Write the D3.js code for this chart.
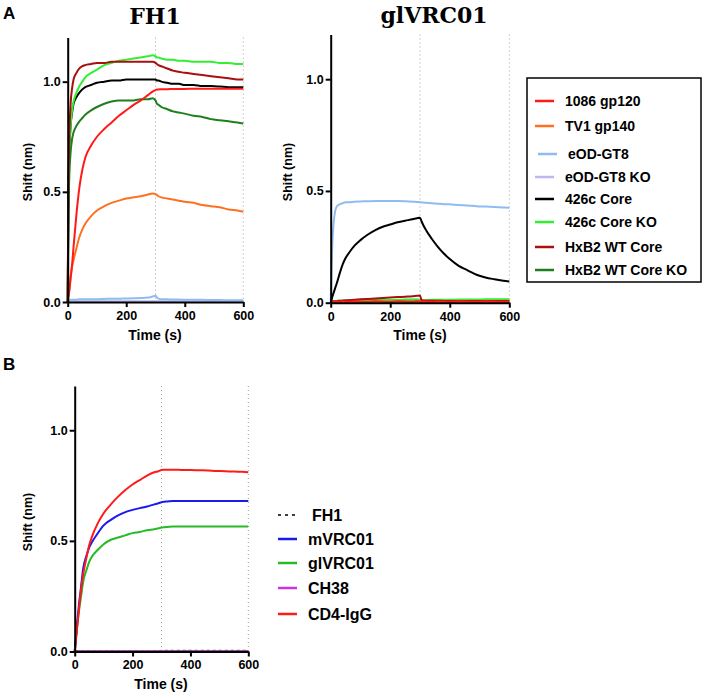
<!DOCTYPE html>
<html><head><meta charset="utf-8">
<script src="https://cdn.jsdelivr.net/npm/d3@7"></script>
<style>body{margin:0;background:#fff} svg{display:block} text{font-family:"Liberation Sans",Arial,sans-serif;font-weight:bold}</style>
</head><body>
<svg id="c" width="704" height="696"></svg>
<script>
// ---------- DATA ----------
const time = [0,2,5,10,15,20,30,40,50,60,80,100,125,150,175,200,225,250,275,290,300,305,310,320,340,360,380,400,430,460,490,520,550,580,600];

// Panel A, FH1
const fh1_gp120   = [0,0.02,0.045,0.11,0.17,0.25,0.4,0.52,0.6,0.655,0.71,0.75,0.785,0.815,0.845,0.87,0.895,0.915,0.94,0.955,0.962,0.965,0.965,0.966,0.966,0.967,0.967,0.967,0.968,0.968,0.968,0.968,0.968,0.968,0.968];
const fh1_gp140   = [0,0.02,0.05,0.11,0.16,0.19,0.245,0.295,0.33,0.355,0.39,0.415,0.435,0.45,0.46,0.47,0.475,0.48,0.488,0.493,0.49,0.485,0.48,0.475,0.47,0.465,0.46,0.455,0.45,0.44,0.435,0.43,0.42,0.415,0.41];
const fh1_eod     = [0,0.005,0.008,0.01,0.01,0.01,0.01,0.012,0.012,0.012,0.013,0.013,0.014,0.015,0.015,0.016,0.017,0.018,0.02,0.025,0.028,0.02,0.015,0.012,0.012,0.011,0.011,0.01,0.01,0.01,0.009,0.009,0.008,0.008,0.008];
const fh1_eodko   = [0,0.002,0.003,0.003,0.003,0.003,0.003,0.003,0.003,0.003,0.003,0.003,0.003,0.003,0.003,0.003,0.003,0.003,0.003,0.003,0.003,0.003,0.003,0.003,0.003,0.003,0.003,0.003,0.003,0.003,0.003,0.003,0.003,0.003,0.003];
const fh1_426c    = [0,0.4,0.65,0.8,0.86,0.9,0.93,0.95,0.965,0.975,0.985,0.995,1.0,1.005,1.005,1.01,1.01,1.01,1.01,1.01,1.01,1.005,1.005,1.0,0.995,0.99,0.99,0.985,0.985,0.98,0.98,0.978,0.975,0.975,0.975];
const fh1_426cko  = [0,0.4,0.65,0.8,0.87,0.91,0.95,0.98,1.0,1.02,1.04,1.055,1.075,1.085,1.095,1.10,1.105,1.11,1.115,1.12,1.115,1.11,1.11,1.105,1.10,1.10,1.095,1.095,1.09,1.09,1.09,1.085,1.085,1.08,1.08];
const fh1_hxb2    = [0,0.45,0.72,0.9,0.97,1.01,1.04,1.06,1.07,1.075,1.08,1.085,1.085,1.09,1.09,1.09,1.09,1.09,1.09,1.09,1.085,1.08,1.075,1.07,1.06,1.05,1.045,1.04,1.035,1.03,1.025,1.02,1.015,1.01,1.01];
const fh1_hxb2ko  = [0,0.35,0.55,0.68,0.74,0.77,0.8,0.82,0.835,0.85,0.87,0.885,0.9,0.91,0.915,0.915,0.915,0.92,0.92,0.925,0.915,0.9,0.895,0.885,0.875,0.865,0.86,0.855,0.845,0.84,0.83,0.825,0.82,0.815,0.81];

// Panel A, glVRC01
const gl_gp120    = [0,0.004,0.005,0.004,0.006,0.005,0.004,0.006,0.005,0.004,0.006,0.005,0.004,0.006,0.005,0.004,0.006,0.005,0.004,0.006,0.005,0.004,0.006,0.005,0.004,0.006,0.005,0.004,0.006,0.005,0.004,0.006,0.005,0.004,0.005];
const gl_gp140    = [0,0.003,0.003,0.004,0.004,0.004,0.004,0.004,0.004,0.004,0.004,0.004,0.004,0.004,0.004,0.004,0.004,0.004,0.004,0.004,0.004,0.004,0.004,0.004,0.004,0.004,0.004,0.004,0.004,0.004,0.004,0.004,0.004,0.004,0.004];
const gl_eod      = [0,0.12,0.25,0.36,0.41,0.43,0.44,0.445,0.45,0.45,0.452,0.453,0.454,0.455,0.455,0.455,0.455,0.454,0.452,0.451,0.45,0.449,0.448,0.447,0.445,0.443,0.441,0.44,0.437,0.435,0.432,0.43,0.428,0.426,0.425];
const gl_eodko    = [0,0.002,0.002,0.002,0.002,0.002,0.002,0.002,0.002,0.002,0.002,0.002,0.002,0.002,0.002,0.002,0.002,0.002,0.002,0.002,0.002,0.002,0.002,0.002,0.002,0.002,0.002,0.002,0.002,0.002,0.002,0.002,0.002,0.002,0.002];
const gl_426c     = [0,0.01,0.025,0.045,0.065,0.085,0.13,0.17,0.2,0.22,0.255,0.28,0.305,0.325,0.34,0.35,0.36,0.367,0.373,0.378,0.38,0.365,0.35,0.325,0.285,0.25,0.22,0.195,0.165,0.145,0.125,0.113,0.105,0.098,0.095];
const gl_426cko   = [0,0.004,0.006,0.007,0.008,0.008,0.009,0.009,0.01,0.01,0.01,0.011,0.011,0.012,0.012,0.012,0.013,0.013,0.013,0.014,0.012,0.012,0.012,0.012,0.013,0.013,0.013,0.013,0.014,0.014,0.014,0.015,0.015,0.015,0.015];
const gl_hxb2     = [0,0.002,0.004,0.005,0.006,0.007,0.008,0.009,0.01,0.011,0.013,0.015,0.017,0.019,0.021,0.023,0.025,0.027,0.029,0.031,0.032,0.012,0.01,0.009,0.009,0.009,0.008,0.008,0.008,0.008,0.008,0.008,0.008,0.008,0.008];
const gl_hxb2ko   = [0,0.004,0.006,0.007,0.008,0.008,0.009,0.009,0.01,0.01,0.01,0.011,0.011,0.012,0.012,0.012,0.012,0.013,0.013,0.013,0.012,0.011,0.011,0.011,0.011,0.011,0.011,0.011,0.011,0.011,0.011,0.011,0.011,0.011,0.011];

// Panel B
const b_fh1       = [0.003,0.003,0.003,0.003,0.003,0.003,0.003,0.003,0.003,0.003,0.003,0.003,0.003,0.003,0.003,0.003,0.003,0.003,0.003,0.003,0.004,0.004,0.004,0.004,0.004,0.004,0.004,0.004,0.004,0.004,0.004,0.004,0.004,0.004,0.004];
const b_mvrc01    = [0,0.03,0.075,0.15,0.215,0.27,0.38,0.43,0.47,0.495,0.535,0.57,0.595,0.615,0.63,0.64,0.648,0.655,0.665,0.67,0.675,0.676,0.677,0.678,0.68,0.68,0.68,0.68,0.68,0.68,0.68,0.68,0.68,0.68,0.68];
const b_glvrc01   = [0,0.026,0.065,0.13,0.185,0.23,0.32,0.365,0.405,0.43,0.46,0.485,0.505,0.515,0.525,0.535,0.54,0.548,0.553,0.557,0.56,0.561,0.562,0.563,0.565,0.565,0.565,0.565,0.565,0.565,0.565,0.565,0.565,0.565,0.565];
const b_ch38      = [0,0.002,0.002,0.002,0.002,0.002,0.002,0.002,0.002,0.002,0.002,0.002,0.002,0.002,0.002,0.002,0.002,0.002,0.002,0.002,0.002,0.002,0.002,0.002,0.002,0.002,0.002,0.002,0.002,0.002,0.002,0.002,0.002,0.002,0.002];
const b_cd4igg    = [0,0.026,0.065,0.13,0.195,0.26,0.354,0.42,0.48,0.52,0.58,0.625,0.665,0.70,0.73,0.755,0.775,0.795,0.81,0.815,0.82,0.821,0.822,0.822,0.822,0.821,0.82,0.82,0.819,0.818,0.816,0.815,0.813,0.812,0.81];

const legendA = ["1086 gp120","TV1 gp140","eOD-GT8","eOD-GT8 KO","426c Core","426c Core KO","HxB2 WT Core","HxB2 WT Core KO"];
const legendB = ["FH1","mVRC01","glVRC01","CH38","CD4-IgG"];
const xTicks = [0,200,400,600];
const yTicks = [0,0.5,1.0];

// ---------- STYLE ----------
const colA = ["#ff1a1a","#ff7020","#8ebcf0","#bdb6f2","#000000","#33ee33","#a80f0f","#1f7f1f"];
const colB = ["#000000","#1a1aee","#26bb26","#cc33dd","#ff1a1a"];

const svg = d3.select("#c");

function panel(cfg, series) {
  const x = d3.scaleLinear().domain([0,600]).range(cfg.xr);
  const y = d3.scaleLinear().domain([0,1.2]).range(cfg.yr);
  const g = svg.append("g");
  [300,600].forEach(v => {
    g.append("line").attr("x1", x(v)).attr("x2", x(v)).attr("y1", y(1.2)).attr("y2", y(0))
      .attr("stroke","#a0a0a0").attr("stroke-width",1).attr("stroke-dasharray","1,3");
  });
  const line = d3.line().x((d,i)=>x(time[i])).y(d=>y(d)).curve(d3.curveMonotoneX);
  series.forEach(s => {
    g.append("path").datum(s.v).attr("d", line).attr("fill","none")
      .attr("stroke", s.c).attr("stroke-width", s.w || 2)
      .attr("stroke-dasharray", s.dash || null);
  });
  const ax = g.append("g").attr("transform",`translate(0,${cfg.yr[0]})`)
    .call(d3.axisBottom(x).tickValues(xTicks).tickFormat(d3.format("d")).tickSize(5).tickSizeOuter(0).tickPadding(4));
  const ay = g.append("g").attr("transform",`translate(${cfg.xr[0]},0)`)
    .call(d3.axisLeft(y).tickValues(yTicks).tickFormat(d3.format(".1f")).tickSize(5).tickSizeOuter(0).tickPadding(2));
  [ax, ay].forEach(a => {
    a.select(".domain").attr("stroke","#000").attr("stroke-width",2);
    a.selectAll(".tick line").attr("stroke","#000").attr("stroke-width",2);
    a.selectAll(".tick text").attr("fill","#000").style("font-size","12.5px")
      .style("font-family",'"Liberation Sans",Arial,sans-serif').style("font-weight","bold");
  });
  g.append("text").attr("transform",`translate(${cfg.ylx},${cfg.yly}) rotate(-90)`)
    .attr("text-anchor","middle").attr("dy","0.35em").style("font-size","12.5px").text("Shift (nm)");
  g.append("text").attr("x", cfg.tx).attr("y", cfg.ty).attr("text-anchor","middle")
    .style("font-size","14px").text("Time (s)");
}

panel({xr:[67.7,243.3], yr:[302,37.6], ylx:28, yly:172, tx:155, ty:340}, [
  {v:fh1_eodko, c:colA[3]}, {v:fh1_eod, c:colA[2]},
  {v:fh1_gp140, c:colA[1]}, {v:fh1_hxb2ko, c:colA[7]}, {v:fh1_426c, c:colA[4]},
  {v:fh1_426cko, c:colA[5]}, {v:fh1_hxb2, c:colA[6]}, {v:fh1_gp120, c:colA[0]}
]);
panel({xr:[330.7,509.3], yr:[302.7,34.5], ylx:288, yly:172, tx:420, ty:340}, [
  {v:gl_eodko, c:colA[3]}, {v:gl_gp140, c:colA[1]}, {v:gl_hxb2ko, c:colA[7]},
  {v:gl_426cko, c:colA[5]}, {v:gl_hxb2, c:colA[6]}, {v:gl_gp120, c:colA[0]},
  {v:gl_eod, c:colA[2]}, {v:gl_426c, c:colA[4]}
]);
panel({xr:[74.7,248.3], yr:[651.5,386], ylx:28, yly:522, tx:161, ty:689}, [
  {v:b_ch38, c:colB[3]}, {v:b_fh1, c:"#666", dash:"3,3", w:1.5},
  {v:b_glvrc01, c:colB[2]}, {v:b_mvrc01, c:colB[1]}, {v:b_cd4igg, c:colB[4]}
]);

// Titles
svg.append("text").attr("x",3).attr("y",18.5).style("font-size","17px").text("A");
svg.append("text").attr("x",3).attr("y",370).style("font-size","17px").text("B");
svg.append("text").attr("x",155).attr("y",23.5).attr("text-anchor","middle")
  .style("font-family",'"DejaVu Serif",serif').style("font-size","22px").text("FH1");
svg.append("text").attr("x",434).attr("y",23).attr("text-anchor","middle")
  .style("font-family",'"DejaVu Serif",serif').style("font-size","22px").text("glVRC01");

// Legend A
svg.append("rect").attr("x",527).attr("y",78).attr("width",174).attr("height",204)
  .attr("fill","none").attr("stroke","#000").attr("stroke-width",1.5);
const lyA = [101,126,154,177,199,222,247,270];
legendA.forEach((name,i) => {
  const shift = (i===2) ? 3 : 0;
  svg.append("line").attr("x1",535+shift).attr("x2",554+shift).attr("y1",lyA[i]).attr("y2",lyA[i])
    .attr("stroke",colA[i]).attr("stroke-width",2.5);
  svg.append("text").attr("x",565+shift).attr("y",lyA[i]+5).style("font-size","14px").text(name);
});

// Legend B
const lyB = [515,539,563,588,614];
legendB.forEach((name,i) => {
  svg.append("line").attr("x1",278).attr("x2",297).attr("y1",lyB[i]).attr("y2",lyB[i])
    .attr("stroke",colB[i]).attr("stroke-width", i===0 ? 1.5 : 2.5)
    .attr("stroke-dasharray", i===0 ? "3,4" : null);
  svg.append("text").attr("x", i===0 ? 312 : 308).attr("y",lyB[i]+6).style("font-size","16px").text(name);
});
</script>
</body></html>
